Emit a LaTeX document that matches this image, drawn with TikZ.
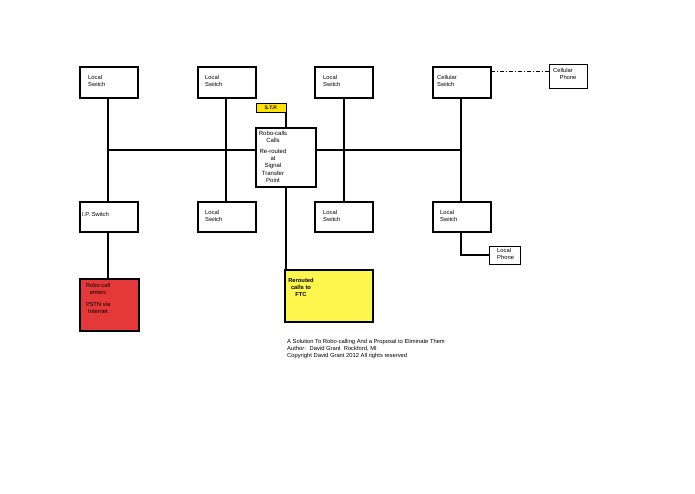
\documentclass[tikz,border=0pt]{standalone}
\usepackage{fontspec}
\setmainfont{Liberation Sans}
\begin{document}
\begin{tikzpicture}[x=1pt,y=-1pt,
  bx/.style={draw,line width=1.2pt,fill=white},
  lbl/.style={anchor=north west,font=\fontsize{5.8}{7}\selectfont,align=left,inner sep=0pt},
  clbl/.style={anchor=north,font=\fontsize{6}{7.3}\selectfont,align=center,inner sep=0pt},
  ln/.style={line width=1.2pt}]
\useasboundingbox (0,0) rectangle (695,494);
\fill[white] (0,0) rectangle (695,494);
% lines
\draw[ln] (108,150) -- (461,150);
\foreach \x in {108,226,344,461} \draw[ln] (\x,98) -- (\x,202);
\draw[ln] (108,232) -- (108,279);
\draw[ln] (286,112) -- (286,270);
\draw[ln] (461,232) -- (461,255) -- (489,255);
\draw[line width=1pt,dash pattern=on 4pt off 2pt on 1pt off 2pt] (491,72) -- (549,72);
% boxes
\draw[bx] (80,67) rectangle (138,98); \node[lbl] at (88,75) {Local\\Switch};
\draw[bx] (198,67) rectangle (256,98); \node[lbl] at (205,75) {Local\\Switch};
\draw[bx] (315,67) rectangle (373,98); \node[lbl] at (323,75) {Local\\Switch};
\draw[bx] (433,67) rectangle (491,98); \node[lbl] at (437,75) {Cellular\\Switch};
\draw[bx,line width=1pt] (549,65) rectangle (587,89); \node[lbl] at (553,68) {Cellular\\~~~~Phone};
\draw[bx,line width=0.8pt,fill=yellow!85!orange] (256,103) rectangle (286,112);
\node[font=\fontsize{5}{6}\selectfont\bfseries,inner sep=0pt] at (271,107.5) {S.T.P.};
\draw[bx] (256,128) rectangle (316,187);
\node[clbl] at (273,131) {Robo-calls\\Calls\\[3pt]Re-routed\\at\\Signal\\Transfer\\Point};
\draw[bx] (80,202) rectangle (138,232); \node[lbl] at (82,212) {I.P. Switch};
\draw[bx] (198,202) rectangle (256,232); \node[lbl] at (205,210) {Local\\Switch};
\draw[bx] (315,202) rectangle (373,232); \node[lbl] at (323,210) {Local\\Switch};
\draw[bx] (433,202) rectangle (491,232); \node[lbl] at (440,210) {Local\\Switch};
\draw[bx,line width=1pt] (489,246) rectangle (520,264); \node[lbl] at (497,248) {Local\\Phone};
\draw[bx,fill=red!75!white!90!black] (80,279) rectangle (139,331);
\node[lbl,align=center,anchor=north] at (98,283) {Robo call\\enters\\[5pt]PSTN via\\Internet};
\draw[bx,fill=yellow!70!white] (285,270) rectangle (373,322);
\node[lbl,font=\fontsize{5.8}{7}\selectfont\bfseries,align=center,anchor=north] at (301,278) {Rerouted\\calls to\\FTC};
\node[lbl] at (287,339) {A Solution To Robo-calling And a Proposal to Eliminate Them\\Author:~ David Grant~ Rockford, MI\\Copyright David Grant 2012 All rights reserved};
\end{tikzpicture}
\end{document}
